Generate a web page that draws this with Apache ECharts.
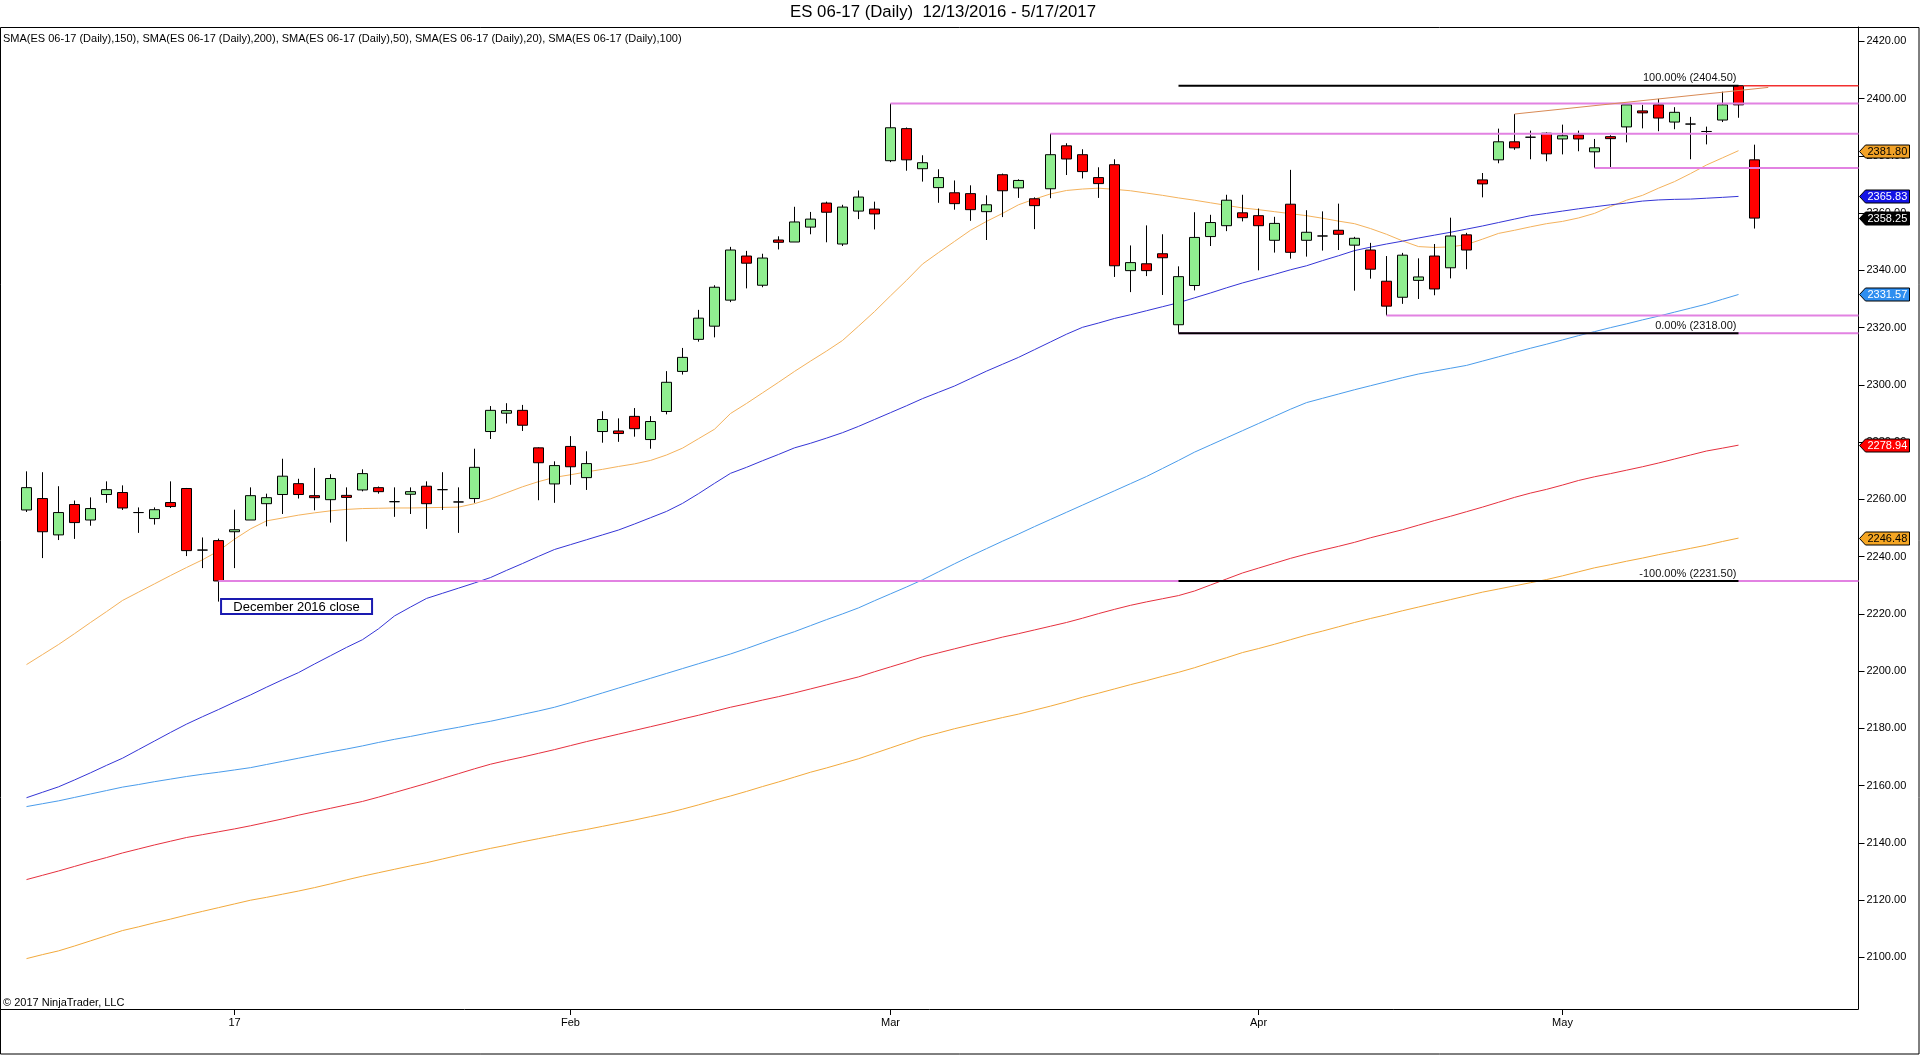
<!DOCTYPE html>
<html>
<head>
<meta charset="utf-8">
<script src="https://cdn.jsdelivr.net/npm/echarts@6.0.0/dist/echarts.min.js"></script>
<style>
    html, body { margin: 0; padding: 0; background: #fff; }
    #chart { width: 1920px; height: 1055px; }
</style>
</head>
<body>
<div id="chart"></div>
<script>
    // trading days shown on the chart, month by month
    const decDays = [13, 14, 15, 16, 19, 20, 21, 22, 23, 27, 28, 29, 30];
    const janDays = [3, 4, 5, 6, 9, 10, 11, 12, 13, 16, 17, 18, 19, 20, 23, 24, 25, 26, 27, 30, 31];
    const febDays = [1, 2, 3, 6, 7, 8, 9, 10, 13, 14, 15, 16, 17, 20, 21, 22, 23, 24, 27, 28];
    const marDays = [1, 2, 3, 6, 7, 8, 9, 10, 13, 14, 15, 16, 17, 20, 21, 22, 23, 24, 27, 28, 29, 30, 31];
    const aprDays = [3, 4, 5, 6, 7, 10, 11, 12, 13, 17, 18, 19, 20, 21, 24, 25, 26, 27, 28];
    const mayDays = [1, 2, 3, 4, 5, 8, 9, 10, 11, 12, 15, 16, 17];
    const monthNames = ['2016-12', '2017-01', '2017-02', '2017-03', '2017-04', '2017-05'];
    const monthTickLabels = ['', '17', 'Feb', 'Mar', 'Apr', 'May'];
    const emptySlots = 6;

    const openPx = [
        2256.3, 2260.3, 2247.6, 2258.2, 2252.8, 2261.7, 2262.4, 2255.4, 2253.3, 2258.9,
        2263.8, 2242.3, 2245.6, 2248.7, 2252.8, 2258.5, 2261.7, 2265.5, 2261.3, 2259.9,
        2261.4, 2263.3, 2264.1, 2259.2, 2261.8, 2264.6, 2263.4, 2259.1, 2260.3, 2283.7,
        2290.1, 2291.1, 2278.0, 2265.4, 2278.5, 2267.6, 2283.7, 2283.9, 2289.0, 2280.9,
        2290.7, 2304.7, 2315.9, 2320.5, 2329.6, 2345.0, 2334.8, 2350.6, 2349.9, 2355.1,
        2363.5, 2349.2, 2360.7, 2361.4, 2378.3, 2389.5, 2375.5, 2368.9, 2367.1, 2366.8,
        2360.5, 2373.4, 2368.8, 2365.0, 2368.5, 2383.5, 2380.4, 2372.4, 2376.9, 2339.9,
        2342.3, 2345.8, 2321.0, 2334.7, 2351.8, 2355.6, 2360.1, 2359.1, 2350.5, 2363.1,
        2350.5, 2352.0, 2354.0, 2348.8, 2347.1, 2336.2, 2330.6, 2336.5, 2345.0, 2340.9,
        2352.4, 2371.6, 2378.6, 2384.9, 2386.5, 2387.9, 2385.9, 2387.3, 2381.4, 2386.7,
        2390.1, 2395.7, 2397.8, 2391.8, 2391.1, 2388.5, 2392.5, 2404.5, 2378.6
    ];
    const closePx = [
        2264.1, 2248.7, 2255.4, 2251.9, 2256.8, 2263.4, 2257.0, 2255.4, 2256.4, 2257.5,
        2242.1, 2242.3, 2231.5, 2249.4, 2261.3, 2260.6, 2268.1, 2261.7, 2260.6, 2267.3,
        2260.7, 2269.0, 2262.7, 2259.2, 2262.7, 2258.5, 2263.4, 2259.1, 2271.2, 2291.1,
        2291.0, 2285.9, 2272.8, 2271.8, 2271.4, 2272.5, 2287.9, 2283.0, 2284.7, 2287.2,
        2300.9, 2309.6, 2323.3, 2334.1, 2347.1, 2342.5, 2344.3, 2349.8, 2356.9, 2357.9,
        2360.3, 2362.1, 2365.6, 2359.7, 2389.8, 2378.6, 2377.6, 2372.4, 2363.3, 2361.2,
        2362.9, 2367.8, 2371.4, 2362.6, 2380.4, 2378.9, 2374.5, 2370.3, 2341.6, 2342.7,
        2339.9, 2344.4, 2337.8, 2351.5, 2356.7, 2364.5, 2358.4, 2355.6, 2356.4, 2346.3,
        2353.3, 2352.0, 2352.6, 2351.2, 2340.4, 2327.5, 2345.3, 2337.7, 2333.5, 2352.0,
        2347.1, 2370.2, 2384.9, 2382.8, 2386.5, 2380.7, 2387.0, 2385.9, 2382.8, 2386.0,
        2397.8, 2395.0, 2393.2, 2395.2, 2391.1, 2388.5, 2397.8, 2397.8, 2358.25
    ];
    const lowPx = [
        2255.6, 2239.5, 2245.8, 2246.2, 2250.8, 2258.8, 2256.3, 2248.3, 2251.2, 2257.0,
        2240.2, 2236.0, 2224.3, 2236.0, 2252.8, 2250.6, 2254.9, 2260.3, 2256.2, 2251.9,
        2245.3, 2262.8, 2262.0, 2253.9, 2254.9, 2249.7, 2256.3, 2248.3, 2258.8, 2281.1,
        2286.5, 2283.9, 2259.7, 2258.8, 2265.1, 2263.3, 2279.8, 2280.1, 2281.9, 2277.7,
        2289.7, 2303.6, 2315.1, 2316.6, 2328.9, 2333.7, 2334.1, 2347.3, 2349.9, 2352.6,
        2349.8, 2348.5, 2357.9, 2354.3, 2377.8, 2374.8, 2371.0, 2363.6, 2361.2, 2357.3,
        2350.6, 2358.6, 2365.3, 2354.4, 2365.2, 2373.3, 2372.1, 2365.3, 2337.7, 2332.4,
        2338.0, 2331.4, 2318.0, 2333.0, 2348.5, 2353.7, 2357.1, 2340.0, 2346.2, 2344.1,
        2344.8, 2346.9, 2347.1, 2332.9, 2337.1, 2324.25, 2328.3, 2330.0, 2331.3, 2337.2,
        2340.4, 2365.5, 2377.4, 2382.1, 2378.8, 2378.1, 2380.5, 2381.6, 2375.75, 2376.0,
        2384.7, 2389.6, 2388.6, 2389.3, 2378.8, 2384.0, 2391.8, 2393.3, 2354.6
    ];
    const highPx = [
        2269.8, 2269.5, 2264.6, 2259.6, 2260.7, 2266.3, 2264.9, 2257.2, 2257.2, 2266.3,
        2264.0, 2246.7, 2246.3, 2256.4, 2264.2, 2262.0, 2274.2, 2267.2, 2271.0, 2268.8,
        2264.2, 2270.5, 2264.5, 2264.2, 2264.2, 2266.3, 2269.5, 2264.2, 2277.7, 2292.6,
        2293.6, 2293.0, 2278.2, 2273.3, 2282.1, 2276.8, 2290.8, 2288.3, 2291.9, 2289.1,
        2304.8, 2312.9, 2326.2, 2334.8, 2348.2, 2346.8, 2345.8, 2351.9, 2362.2, 2360.4,
        2364.0, 2362.9, 2367.9, 2364.0, 2398.25, 2389.9, 2380.2, 2375.3, 2371.4, 2369.7,
        2366.2, 2373.8, 2371.8, 2365.5, 2387.75, 2384.4, 2382.3, 2376.0, 2378.8, 2348.7,
        2355.7, 2352.6, 2341.4, 2360.3, 2359.4, 2366.4, 2366.4, 2361.6, 2358.7, 2375.1,
        2361.0, 2360.6, 2363.3, 2351.7, 2349.6, 2345.0, 2346.1, 2344.2, 2349.2, 2358.4,
        2353.1, 2374.0, 2389.5, 2394.6, 2388.8, 2388.2, 2390.9, 2388.8, 2385.9, 2387.2,
        2397.8, 2397.8, 2399.9, 2397.0, 2393.6, 2390.2, 2402.4, 2404.5, 2383.9
    ];

    // moving averages (the last, still open bar has no value yet)
    const sma20 = [
        2202.3, 2205.8, 2209.3, 2213.1, 2217.0, 2220.8, 2224.7, 2227.6, 2230.5, 2233.4,
        2236.2, 2238.9, 2242.0, 2246.1, 2249.7, 2252.5, 2253.5, 2254.5, 2255.3, 2256.0,
        2256.5, 2256.8, 2256.9, 2257.0, 2257.0, 2257.1, 2257.2, 2257.3, 2258.5, 2260.2,
        2262.3, 2264.4, 2266.2, 2267.7, 2268.6, 2269.6, 2270.5, 2271.5, 2272.4, 2273.6,
        2275.5, 2277.9, 2281.2, 2284.5, 2290.0, 2293.5, 2297.2, 2300.9, 2304.7, 2308.3,
        2311.8, 2315.5, 2320.5, 2325.6, 2331.1, 2336.5, 2342.2, 2346.2, 2350.1, 2354.0,
        2357.1, 2359.9, 2362.9, 2364.9, 2366.7, 2367.9, 2368.4, 2368.7, 2368.3, 2367.8,
        2367.0, 2366.2, 2365.3, 2364.5, 2363.6, 2362.7, 2361.8, 2361.2, 2360.5, 2359.8,
        2359.1, 2358.2, 2357.2, 2356.3, 2354.6, 2352.6, 2350.3, 2348.3, 2348.0, 2348.2,
        2349.0, 2350.9, 2352.9, 2354.0, 2355.2, 2356.3, 2357.1, 2358.3, 2359.9, 2362.3,
        2364.5, 2366.2, 2368.7, 2371.0, 2373.8, 2376.8, 2379.3, 2381.8
    ];
    const sma50 = [
        2155.8, 2157.7, 2159.6, 2162.0, 2164.5, 2167.1, 2169.6, 2172.6, 2175.6, 2178.6,
        2181.5, 2184.1, 2186.6, 2189.2, 2191.7, 2194.4, 2197.0, 2199.5, 2202.5, 2205.4,
        2208.3, 2211.0, 2214.8, 2219.3, 2222.4, 2225.4, 2227.2, 2229.0, 2230.8, 2232.7,
        2235.2, 2237.6, 2240.1, 2242.5, 2244.2, 2245.9, 2247.6, 2249.3, 2251.4, 2253.6,
        2255.8, 2258.6, 2262.0, 2265.6, 2269.1, 2271.2, 2273.5, 2275.7, 2278.0, 2279.6,
        2281.4, 2283.3, 2285.5, 2287.9, 2290.3, 2292.7, 2295.2, 2297.4, 2299.6, 2302.2,
        2304.8, 2307.2, 2309.6, 2312.3, 2315.0, 2317.7, 2320.1, 2321.6, 2323.2, 2324.5,
        2325.9, 2327.3, 2328.7, 2330.4, 2332.1, 2333.9, 2335.6, 2337.1, 2338.6, 2340.2,
        2341.6, 2343.4, 2345.1, 2346.9, 2348.1, 2349.2, 2350.2, 2351.3, 2352.3, 2353.3,
        2354.4, 2355.5, 2356.7, 2357.9, 2359.1, 2359.9, 2360.7, 2361.5, 2362.2, 2362.9,
        2363.5, 2364.2, 2364.6, 2364.8, 2364.9, 2365.2, 2365.5, 2365.83
    ];
    const sma100 = [
        2152.7, 2153.7, 2154.7, 2155.9, 2157.1, 2158.3, 2159.5, 2160.4, 2161.4, 2162.3,
        2163.2, 2164.0, 2164.7, 2165.5, 2166.3, 2167.4, 2168.5, 2169.6, 2170.7, 2171.8,
        2172.8, 2173.9, 2175.1, 2176.2, 2177.2, 2178.3, 2179.4, 2180.4, 2181.5, 2182.5,
        2183.7, 2184.9, 2186.1, 2187.4, 2189.0, 2190.7, 2192.4, 2194.1, 2195.8, 2197.5,
        2199.2, 2200.9, 2202.6, 2204.3, 2206.0, 2207.9, 2209.9, 2211.9, 2213.8, 2215.9,
        2218.0, 2220.0, 2222.1, 2224.6, 2227.0, 2229.4, 2231.9, 2234.7, 2237.5, 2240.2,
        2242.8, 2245.4, 2247.9, 2250.5, 2253.0, 2255.5, 2258.0, 2260.5, 2263.0, 2265.5,
        2268.0, 2270.8, 2273.6, 2276.5, 2279.0, 2281.5, 2284.0, 2286.5, 2289.0, 2291.5,
        2293.8, 2295.3, 2296.8, 2298.3, 2299.7, 2301.1, 2302.5, 2303.8, 2304.8, 2305.8,
        2306.8, 2308.3, 2309.8, 2311.3, 2312.8, 2314.2, 2315.7, 2317.2, 2318.6, 2320.0,
        2321.3, 2322.7, 2324.0, 2325.4, 2326.8, 2328.2, 2329.9, 2331.57
    ];
    const sma150 = [
        2127.2, 2128.7, 2130.2, 2131.8, 2133.4, 2134.9, 2136.5, 2137.9, 2139.3, 2140.6,
        2141.9, 2142.9, 2143.9, 2144.9, 2146.0, 2147.2, 2148.4, 2149.7, 2150.9, 2152.1,
        2153.3, 2154.5, 2156.0, 2157.6, 2159.2, 2160.8, 2162.5, 2164.2, 2165.9, 2167.5,
        2168.8, 2170.0, 2171.3, 2172.6, 2174.0, 2175.4, 2176.7, 2178.0, 2179.3, 2180.6,
        2181.9, 2183.3, 2184.6, 2186.0, 2187.4, 2188.6, 2189.9, 2191.1, 2192.4, 2193.8,
        2195.2, 2196.6, 2198.0, 2199.8, 2201.5, 2203.2, 2205.0, 2206.4, 2207.8, 2209.2,
        2210.5, 2211.9, 2213.1, 2214.4, 2215.7, 2217.0, 2218.5, 2220.1, 2221.6, 2223.0,
        2224.2, 2225.3, 2226.4, 2228.0, 2230.1, 2232.2, 2234.3, 2236.0, 2237.7, 2239.4,
        2240.9, 2242.3, 2243.6, 2245.0, 2246.6, 2248.0, 2249.4, 2251.0, 2252.6, 2254.1,
        2255.7, 2257.3, 2259.0, 2260.7, 2262.2, 2263.5, 2265.0, 2266.6, 2267.9, 2269.0,
        2270.2, 2271.4, 2272.7, 2274.1, 2275.5, 2276.9, 2277.9, 2278.94
    ];
    const sma200 = [
        2099.6, 2101.0, 2102.3, 2104.0, 2105.8, 2107.6, 2109.4, 2110.7, 2112.1, 2113.4,
        2114.8, 2116.1, 2117.4, 2118.7, 2120.0, 2121.0, 2122.1, 2123.2, 2124.4, 2125.7,
        2127.1, 2128.4, 2129.6, 2130.8, 2132.0, 2133.1, 2134.4, 2135.7, 2136.9, 2138.1,
        2139.2, 2140.4, 2141.5, 2142.6, 2143.7, 2144.7, 2145.8, 2146.9, 2148.0, 2149.2,
        2150.4, 2151.8, 2153.3, 2154.9, 2156.4, 2158.0, 2159.7, 2161.3, 2163.0, 2164.7,
        2166.2, 2167.8, 2169.4, 2171.3, 2173.2, 2175.1, 2177.0, 2178.4, 2179.9, 2181.2,
        2182.5, 2183.8, 2185.0, 2186.4, 2187.8, 2189.3, 2190.9, 2192.3, 2193.8, 2195.3,
        2196.7, 2198.2, 2199.6, 2201.2, 2203.0, 2204.7, 2206.5, 2207.9, 2209.4, 2211.0,
        2212.6, 2214.0, 2215.5, 2217.0, 2218.4, 2219.7, 2221.1, 2222.4, 2223.7, 2225.0,
        2226.3, 2227.6, 2228.7, 2229.8, 2230.9, 2232.0, 2233.3, 2234.7, 2236.1, 2237.2,
        2238.4, 2239.5, 2240.7, 2241.8, 2242.9, 2244.0, 2245.3, 2246.48
    ];
    const smaLegendOrder = [150, 200, 50, 20, 100];

    // drawing objects (bar index, price)
    const rayStartBars = [12, 54, 64, 72, 85, 98];
    const rayPrices = [2231.5, 2398.25, 2387.75, 2318.0, 2324.25, 2375.75];
    const fibBars = [72, 107];
    const fibPercents = [100, 0, -100];
    const fibPrices = [2404.5, 2318.0, 2231.5];
    const highRay = [107, 2404.5];
    const trendPoints = [[93, 2394.6], [108.86, 2403.9]];
    const noteText = 'December 2016 close';
    const notePoint = [12.16, 2225.2];

    const FONT = '"Liberation Sans", Arial, sans-serif';
    const X_MIN = -0.5;
    const X_MAX = 114.5;

    // build category axis
    const categories = [];
    const tickAt = {};
    [decDays, janDays, febDays, marDays, aprDays, mayDays].forEach(function (days, m) {
        days.forEach(function (d, k) {
            if (k === 0 && monthTickLabels[m]) tickAt[categories.length] = monthTickLabels[m];
            categories.push(monthNames[m] + '-' + (d < 10 ? '0' + d : d));
        });
    });
    for (let i = 0; i < emptySlots; i++) categories.push('');

    const candles = openPx.map(function (o, i) {
        return [o, closePx[i], lowPx[i], highPx[i]];
    });

    const smaSeries = [
        { name: 'SMA20', data: sma20, color: '#F4B25C' },
        { name: 'SMA50', data: sma50, color: '#3535D6' },
        { name: 'SMA100', data: sma100, color: '#4A9CEB' },
        { name: 'SMA150', data: sma150, color: '#E6303E' },
        { name: 'SMA200', data: sma200, color: '#F2A93B' }
    ];

    const tagStyles = [
        { fill: '#F2A227', text: '#000' },
        { fill: '#1414E6', text: '#fff' },
        { fill: '#000000', text: '#fff' },
        { fill: '#2E8EF0', text: '#fff' },
        { fill: '#FF0000', text: '#fff' },
        { fill: '#F5A623', text: '#000' }
    ];
    const tagValues = [
        sma20[sma20.length - 1],
        sma50[sma50.length - 1],
        closePx[closePx.length - 1],
        sma100[sma100.length - 1],
        sma150[sma150.length - 1],
        sma200[sma200.length - 1]
    ];

    const smaLegend = smaLegendOrder.map(function (p) {
        return 'SMA(ES 06-17 (Daily),' + p + ')';
    }).join(', ');

    const chart = echarts.init(document.getElementById('chart'));

    const option = {
        animation: false,
        backgroundColor: '#fff',
        grid: { left: 18.5, right: 61.5, top: 27, bottom: 46 },
        xAxis: [{
            type: 'category',
            data: categories,
            boundaryGap: true,
            axisLine: { show: false },
            axisTick: {
                show: true, alignWithLabel: true, length: 6,
                interval: function (i) { return i in tickAt; },
                lineStyle: { color: '#000' }
            },
            axisLabel: {
                interval: function (i) { return i in tickAt; },
                formatter: function (v, i) { return tickAt[i] || ''; },
                color: '#000', fontSize: 11, fontFamily: FONT, margin: 8
            },
            splitLine: { show: false }
        }, {
            type: 'value', min: X_MIN, max: X_MAX, show: false
        }],
        yAxis: {
            type: 'value',
            position: 'right',
            min: 2082,
            max: 2425,
            splitNumber: 17,
            minInterval: 20,
            maxInterval: 20,
            axisLine: { show: true, onZero: false, lineStyle: { color: '#000' } },
            axisTick: { show: true, length: 6, lineStyle: { color: '#000' } },
            axisLabel: {
                color: '#000', fontSize: 11, fontFamily: FONT, margin: 8,
                showMinLabel: false, showMaxLabel: false,
                formatter: function (v) { return v.toFixed(2); }
            },
            splitLine: { show: false }
        },
        series: smaSeries.map(function (s) {
            return {
                name: s.name, type: 'line', data: s.data, xAxisIndex: 0,
                showSymbol: false, symbol: 'none', silent: true, z: 2,
                lineStyle: { color: s.color, width: 1 }
            };
        }).concat([{
            type: 'candlestick',
            data: candles,
            xAxisIndex: 0,
            barWidth: 10,
            z: 3,
            itemStyle: {
                color: '#90EE90', color0: '#FF0000',
                borderColor: '#000', borderColor0: '#000', borderColorDoji: '#000',
                borderWidth: 1
            }
        }, {
            // horizontal rays
            type: 'custom', xAxisIndex: 1, clip: false, z: 5, silent: true,
            data: rayStartBars.map(function (b, i) { return [b, rayPrices[i]]; }),
            renderItem: function (params, api) {
                const a = api.coord([api.value(0), api.value(1)]);
                const b = api.coord([X_MAX, api.value(1)]);
                return {
                    type: 'line',
                    shape: { x1: a[0], y1: a[1], x2: b[0], y2: b[1] },
                    style: { stroke: '#E282E2', lineWidth: 2 }
                };
            }
        }, {
            // red ray from the last high
            type: 'custom', xAxisIndex: 1, clip: false, z: 5, silent: true,
            data: [highRay],
            renderItem: function (params, api) {
                const a = api.coord([api.value(0), api.value(1)]);
                const b = api.coord([X_MAX, api.value(1)]);
                return {
                    type: 'line',
                    shape: { x1: a[0] + 5, y1: a[1], x2: b[0], y2: b[1] },
                    style: { stroke: '#F23030', lineWidth: 1.5 }
                };
            }
        }, {
            // fibonacci levels
            type: 'custom', xAxisIndex: 1, clip: false, z: 6, silent: true,
            data: fibPrices.map(function (p, i) { return [fibBars[0], p, fibBars[1], fibPercents[i]]; }),
            renderItem: function (params, api) {
                const price = api.value(1);
                const a = api.coord([api.value(0), price]);
                const b = api.coord([api.value(2), price]);
                return {
                    type: 'group',
                    children: [{
                        type: 'line',
                        shape: { x1: a[0], y1: a[1], x2: b[0], y2: b[1] },
                        style: { stroke: '#000', lineWidth: 2 }
                    }, {
                        type: 'text',
                        style: {
                            text: api.value(3).toFixed(2) + '% (' + price.toFixed(2) + ')',
                            x: b[0] - 2, y: b[1] - 2,
                            align: 'right', verticalAlign: 'bottom',
                            font: '11px ' + FONT, fill: '#111'
                        }
                    }]
                };
            }
        }, {
            type: 'line', xAxisIndex: 1, data: trendPoints, z: 5, silent: true,
            showSymbol: false, symbol: 'none',
            lineStyle: { color: '#D98A55', width: 1 }
        }, {
            // text note
            type: 'custom', xAxisIndex: 1, clip: false, z: 6, silent: true,
            data: [notePoint],
            renderItem: function (params, api) {
                const p = api.coord([api.value(0), api.value(1)]);
                return {
                    type: 'group',
                    children: [{
                        type: 'rect',
                        shape: { x: p[0], y: p[1], width: 151, height: 15 },
                        style: { fill: '#fff', stroke: '#1A1AB0', lineWidth: 2 }
                    }, {
                        type: 'text',
                        style: {
                            text: noteText, x: p[0] + 75.5, y: p[1] + 8,
                            align: 'center', verticalAlign: 'middle',
                            font: '13px ' + FONT, fill: '#000'
                        }
                    }]
                };
            }
        }, {
            // price tags on the axis
            type: 'custom', xAxisIndex: 1, clip: false, z: 10, silent: true,
            data: tagValues.map(function (v, i) { return [X_MAX, v, i]; }),
            renderItem: function (params, api) {
                const p = api.coord([api.value(0), api.value(1)]);
                const st = tagStyles[api.value(2)];
                const x = p[0], y = Math.round(p[1]) + 0.5;
                return {
                    type: 'group',
                    children: [{
                        type: 'polygon',
                        shape: { points: [[x + 1, y], [x + 7, y - 6.5], [x + 51, y - 6.5], [x + 51, y + 6.5], [x + 7, y + 6.5]] },
                        style: { fill: st.fill, stroke: '#000', lineWidth: 1 }
                    }, {
                        type: 'text',
                        style: {
                            text: api.value(1).toFixed(2), x: x + 9, y: y,
                            align: 'left', verticalAlign: 'middle',
                            font: '11px ' + FONT, fill: st.text
                        }
                    }]
                };
            }
        }]),
        graphic: [{
            type: 'text', left: 790, top: 4,
            style: { text: 'ES 06-17 (Daily)  12/13/2016 - 5/17/2017', font: '16.8px ' + FONT, fill: '#000' }
        }, {
            type: 'text', left: 3, top: 33,
            style: { text: smaLegend, font: '11px ' + FONT, fill: '#000' }
        }, {
            type: 'text', left: 3, top: 997,
            style: { text: '\u00A9 2017 NinjaTrader, LLC', font: '11px ' + FONT, fill: '#000' }
        }, {
            type: 'rect', silent: true,
            shape: { x: 0.5, y: 27.5, width: 1918.5, height: 1026.5 },
            style: { fill: 'none', stroke: '#000', lineWidth: 1 }
        }, {
            type: 'line', silent: true,
            shape: { x1: 0, y1: 1009.5, x2: 1858.5, y2: 1009.5 },
            style: { stroke: '#000', lineWidth: 1 }
        }]
    };

    chart.setOption(option);
</script>
</body>
</html>
